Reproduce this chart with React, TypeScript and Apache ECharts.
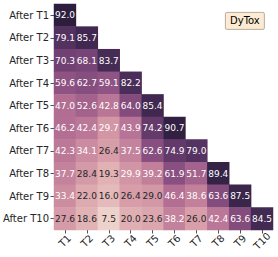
import React, { useEffect, useRef } from "react";
import * as echarts from "echarts";

const tasks = ["T1", "T2", "T3", "T4", "T5", "T6", "T7", "T8", "T9", "T10"];
const rowLabels = ["After T1", "After T2", "After T3", "After T4", "After T5", "After T6", "After T7", "After T8", "After T9", "After T10"];
const accAfterT1 = [92.0];
const accAfterT2 = [79.1, 85.7];
const accAfterT3 = [70.3, 68.1, 83.7];
const accAfterT4 = [59.6, 62.7, 59.1, 82.2];
const accAfterT5 = [47.0, 52.6, 42.8, 64.0, 85.4];
const accAfterT6 = [46.2, 42.4, 29.7, 43.9, 74.2, 90.7];
const accAfterT7 = [42.3, 34.1, 26.4, 37.5, 62.6, 74.9, 79.0];
const accAfterT8 = [37.7, 28.4, 19.3, 29.9, 39.2, 61.9, 51.7, 89.4];
const accAfterT9 = [33.4, 22.0, 16.0, 26.4, 29.0, 46.4, 38.6, 63.6, 87.5];
const accAfterT10 = [27.6, 18.6, 7.5, 20.0, 23.6, 38.2, 26.0, 42.4, 63.6, 84.5];
const rows = [accAfterT1, accAfterT2, accAfterT3, accAfterT4, accAfterT5, accAfterT6, accAfterT7, accAfterT8, accAfterT9, accAfterT10];
const methodName = "DyTox";

// seaborn default cubehelix_palette colormap
function cubehelix(x: number): [number, number, number] {
  const gamma = 1, start = 0, rot = 0.4, hue = 0.8;
  const xg = Math.pow(x, gamma);
  const a = (hue * xg * (1 - xg)) / 2;
  const phi = 2 * Math.PI * (start / 3 + rot * x);
  const c = Math.cos(phi), s = Math.sin(phi);
  const r = xg + a * (-0.14861 * c + 1.78277 * s);
  const g = xg + a * (-0.29227 * c - 0.90649 * s);
  const b = xg + a * (1.97294 * c);
  const cl = (v: number) => Math.max(0, Math.min(1, v));
  return [cl(r), cl(g), cl(b)];
}
const LIGHT = 0.85, DARK = 0.15;
function colorAt(t: number): [number, number, number] {
  return cubehelix(LIGHT + (DARK - LIGHT) * t);
}
function toHex(c: [number, number, number]) {
  return "#" + c.map((v) => Math.round(v * 255).toString(16).padStart(2, "0")).join("");
}
function lum(c: [number, number, number]) {
  const lin = c.map((v) => (v <= 0.03928 ? v / 12.92 : Math.pow((v + 0.055) / 1.055, 2.4)));
  return 0.2126 * lin[0] + 0.7152 * lin[1] + 0.0722 * lin[2];
}

const FONT = "DejaVu Sans";

export default function App() {
  const ref = useRef<HTMLDivElement>(null);
  useEffect(() => {
    if (!ref.current) return;
    const chart = echarts.init(ref.current, undefined, { renderer: "svg" });
    const all = rows.flat();
    const vmin = Math.min(...all);
    const vmax = Math.max(...all);
    const stops: string[] = [];
    for (let i = 0; i <= 40; i++) stops.push(toHex(colorAt(i / 40)));
    const data: any[] = [];
    rows.forEach((r, ri) => {
      r.forEach((v, ci) => {
        const c = colorAt((v - vmin) / (vmax - vmin));
        const dark = lum(c) > 0.388;
        data.push({
          value: [ci, ri, v],
          label: { show: true, color: dark ? "#262626" : "#ffffff" },
        });
      });
    });
    chart.setOption({
      animation: false,
      backgroundColor: "#ffffff",
      grid: { left: 50, right: 5, top: 4, bottom: 27, containLabel: false },
      xAxis: {
        type: "category",
        data: tasks,
        axisLine: { show: false },
        axisTick: { show: true, alignWithLabel: true, length: 3.5, lineStyle: { color: "#262626", width: 0.8 } },
        axisLabel: { rotate: 45, fontSize: 10, color: "#262626", fontFamily: FONT, margin: 11, align: "center", verticalAlign: "middle" },
        splitArea: { show: false },
      },
      yAxis: {
        type: "category",
        data: rowLabels,
        inverse: true,
        axisLine: { show: false },
        axisTick: { show: true, alignWithLabel: true, length: 3.5, lineStyle: { color: "#262626", width: 0.8 } },
        axisLabel: { fontSize: 10, color: "#262626", fontFamily: FONT, margin: 5 },
      },
      visualMap: {
        show: false,
        type: "continuous",
        min: vmin,
        max: vmax,
        dimension: 2,
        inRange: { color: stops },
      },
      series: [
        {
          type: "heatmap",
          data,
          label: {
            show: true,
            fontSize: 9,
            fontFamily: FONT,
            formatter: (p: any) => p.value[2].toFixed(1),
          },
          emphasis: { disabled: true },
        },
      ],
      graphic: [
        {
          type: "group",
          left: 225,
          top: 12,
          children: [
            { type: "rect", shape: { x: 0, y: 0, width: 39, height: 17, r: 1.5 }, style: { fill: "#fcebd3", stroke: "#a89a8a", lineWidth: 0.8 } },
            { type: "text", x: 19.5, y: 8.5, style: { text: methodName, fontSize: 10, fontFamily: FONT, fill: "#000", align: "center", verticalAlign: "middle" } },
          ],
        },
      ],
    });
    return () => chart.dispose();
  }, []);
  return <div ref={ref} style={{ width: 278, height: 257, position: "absolute", left: 0, top: 0 }} />;
}
